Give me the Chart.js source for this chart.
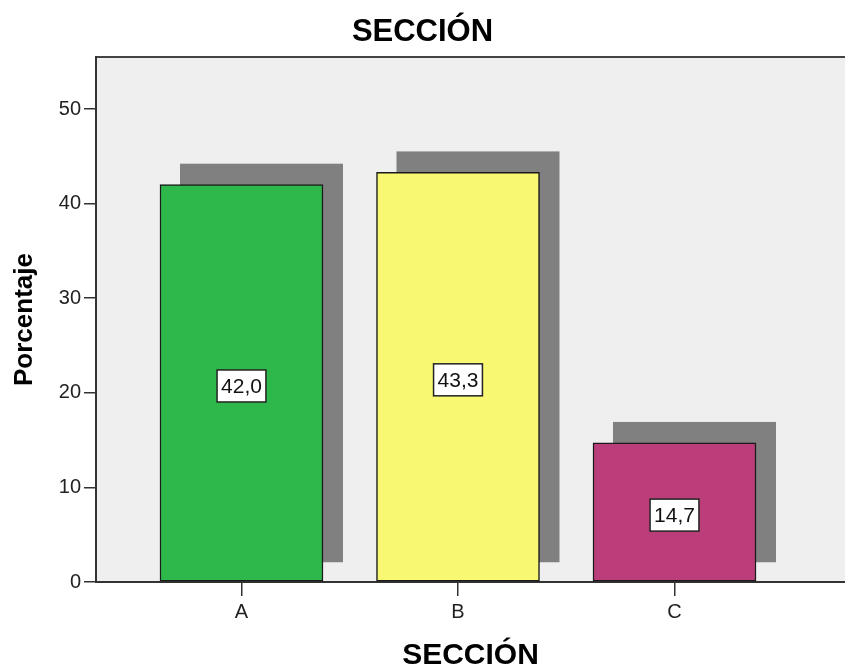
<!DOCTYPE html>
<html>
<head>
<meta charset="utf-8">
<script src="https://cdn.jsdelivr.net/npm/chart.js@4/dist/chart.umd.min.js"></script>
<style>
  html, body { margin: 0; padding: 0; background: #fff; }
  #wrap { width: 845px; height: 671px; }
</style>
</head>
<body>
<div id="wrap"><canvas id="seccionChart" width="845" height="671"></canvas></div>
<script>
// datos
const categories = ['A', 'B', 'C'];
const percentages = [42.0, 43.3, 14.7];
const barColors = ['#2eb84b', '#f9f872', '#bb3e7b'];
const yTicks = [0, 10, 20, 30, 40, 50];

const fontFam = '"Liberation Sans", Arial, sans-serif';

// fondo gris del area y linea superior
const plotBg = {
  id: 'plotBg',
  beforeDraw(chart) {
    const { ctx, chartArea: a } = chart;
    ctx.save();
    ctx.fillStyle = '#efefef';
    ctx.fillRect(a.left, a.top, a.right - a.left, a.bottom - a.top);
    ctx.strokeStyle = '#444';
    ctx.lineWidth = 2;
    ctx.beginPath();
    ctx.moveTo(a.left, a.top);
    ctx.lineTo(a.right, a.top);
    ctx.stroke();
    ctx.restore();
  }
};

// sombra gris detras de cada barra
const barShadow = {
  id: 'barShadow',
  beforeDatasetsDraw(chart) {
    const { ctx } = chart;
    const meta = chart.getDatasetMeta(0);
    ctx.save();
    ctx.fillStyle = '#808080';
    meta.data.forEach(bar => {
      const { x, y, base, width } = bar.getProps(['x', 'y', 'base', 'width'], true);
      const left = x - width / 2 + 20;
      const top = y - 21;
      ctx.fillRect(left, top, width, (base - 19) - top);
    });
    ctx.restore();
  }
};

// etiquetas con el valor en caja blanca
const valueBoxes = {
  id: 'valueBoxes',
  afterDatasetsDraw(chart) {
    const { ctx } = chart;
    const meta = chart.getDatasetMeta(0);
    ctx.save();
    ctx.font = '21px ' + fontFam;
    ctx.textAlign = 'center';
    ctx.textBaseline = 'middle';
    meta.data.forEach((bar, i) => {
      const { x, y, base } = bar.getProps(['x', 'y', 'base'], true);
      const txt = percentages[i].toFixed(1).replace('.', ',');
      const w = ctx.measureText(txt).width + 8;
      const h = 32;
      const cy = (y + base) / 2 + 3;
      ctx.fillStyle = '#fff';
      ctx.fillRect(x - w / 2, cy - h / 2, w, h);
      ctx.strokeStyle = '#222';
      ctx.lineWidth = 1.5;
      ctx.strokeRect(x - w / 2, cy - h / 2, w, h);
      ctx.fillStyle = '#111';
      ctx.fillText(txt, x, cy + 1);
    });
    ctx.restore();
  }
};

new Chart(document.getElementById('seccionChart'), {
  type: 'bar',
  data: {
    datasets: [{
      data: percentages.map((v, i) => ({ x: i, y: v })),
      backgroundColor: barColors,
      borderColor: '#1a1a1a',
      borderWidth: 1.5,
      borderSkipped: false,
      barThickness: 163
    }]
  },
  options: {
    responsive: false,
    animation: false,
    layout: { padding: { left: 0, right: 0, top: 0, bottom: 0 } },
    plugins: {
      legend: { display: false },
      tooltip: { enabled: false },
      title: {
        display: true,
        text: 'SECCIÓN',
        color: '#000',
        font: { family: fontFam, size: 31, weight: 'bold' },
        padding: { top: 13.4, bottom: 6.4 }
      }
    },
    scales: {
      x: {
        type: 'linear',
        offset: false,
        min: -0.672,
        max: 2.7875,
        afterBuildTicks(scale) { scale.ticks = categories.map((c, i) => ({ value: i })); },
        afterFit(scale) { scale.height = 89; },
        ticks: {
          callback: v => categories[v],
          color: '#222',
          font: { family: fontFam, size: 20 },
          padding: 4,
          maxRotation: 0,
          autoSkip: false
        },
        grid: { offset: false, drawOnChartArea: false, drawTicks: true, tickLength: 14, color: '#333', lineWidth: 1.5 },
        border: { display: true, color: '#333', width: 2 },
        title: {
          display: true,
          text: 'SECCIÓN',
          color: '#000',
          font: { family: fontFam, size: 30, weight: 'bold', lineHeight: 1 },
          padding: { top: 0, bottom: 0 }
        }
      },
      y: {
        min: 0,
        max: 55.5,
        afterBuildTicks(scale) { scale.ticks = yTicks.map(v => ({ value: v })); },
        afterFit(scale) { scale.width = 96; },
        ticks: {
          color: '#222',
          font: { family: fontFam, size: 20 },
          padding: 3
        },
        grid: { drawOnChartArea: false, drawTicks: true, tickLength: 12, color: '#333', lineWidth: 1.5 },
        border: { display: true, color: '#333', width: 2 },
        title: {
          display: true,
          text: 'Porcentaje',
          color: '#000',
          font: { family: fontFam, size: 26, weight: 'bold' },
          padding: { top: 9.5, bottom: 0 }
        }
      }
    }
  },
  plugins: [plotBg, barShadow, valueBoxes]
});
</script>
</body>
</html>
